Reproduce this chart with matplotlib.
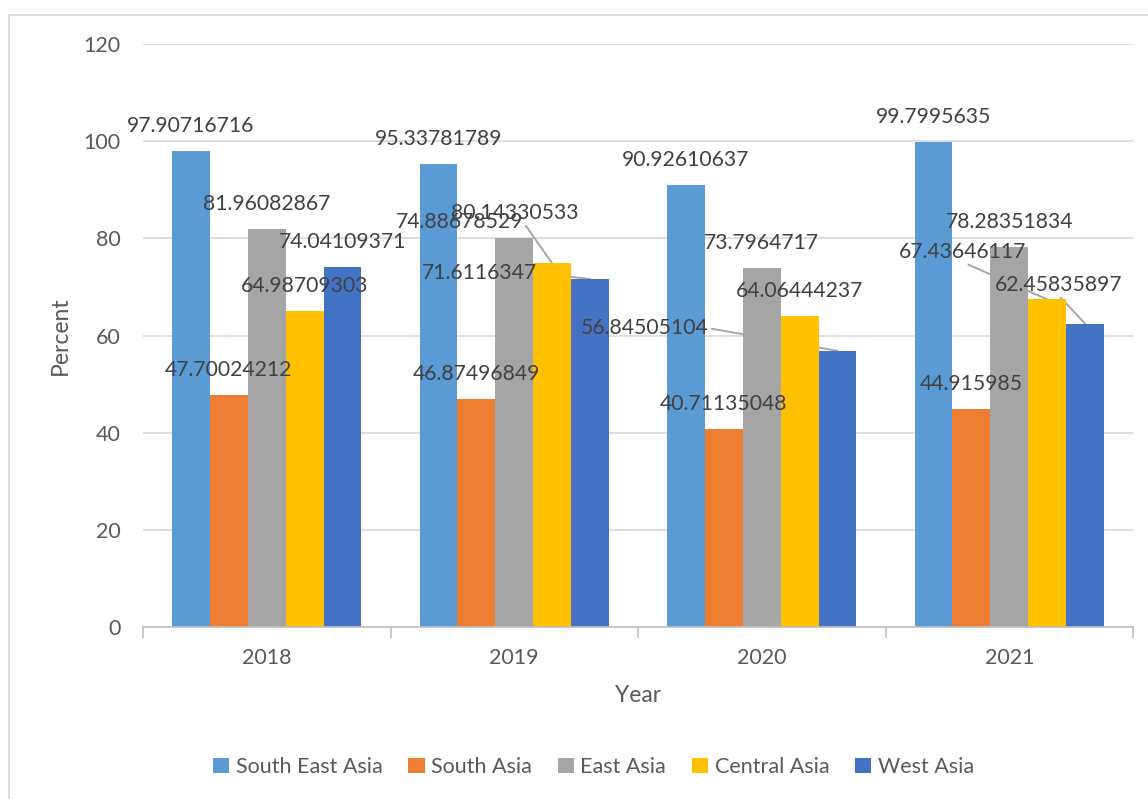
import numpy as np
import matplotlib.pyplot as plt
from matplotlib.patches import Rectangle

plt.rcParams['font.family'] = ['Lato', 'DejaVu Sans']

# Data
years = ["2018", "2019", "2020", "2021"]
regions = ["South East Asia", "South Asia", "East Asia", "Central Asia", "West Asia"]
south_east_asia = [97.90716716, 95.33781789, 90.92610637, 99.7995635]
south_asia = [47.70024212, 46.87496849, 40.71135048, 44.915985]
east_asia = [81.96082867, 80.14330533, 73.7964717, 78.28351834]
central_asia = [64.98709303, 74.88678529, 64.06444237, 67.43646117]
west_asia = [74.04109371, 71.6116347, 56.84505104, 62.45835897]
series = [south_east_asia, south_asia, east_asia, central_asia, west_asia]
colors = ["#5B9BD5", "#ED7D31", "#A5A5A5", "#FFC000", "#4472C4"]

# labels Excel dragged away from their bars: (series, year) -> (x, y, leader start)
moved = {
    (3, 1): (0.778, 83.4, (1, 0.5)),
    (4, 1): (0.859, 72.9, (1, 0.5)),
    (4, 2): (1.528, 61.5, (1, 0.5)),
    (3, 3): (2.810, 77.2, (0.5, 0)),
    (4, 3): (3.198, 70.4, (0.5, 0)),
}

fig = plt.figure(figsize=(11.48, 7.99), dpi=100)
ax = fig.add_axes([143 / 1148, 1 - 627 / 799, 990 / 1148, 583 / 799])

# outer chart border
fig.patches.append(Rectangle((9 / 1148, -0.1), 1.2, 1.1 - 15 / 799,
                             transform=fig.transFigure, fill=False,
                             edgecolor="#D9D9D9", lw=1.2))

x = np.arange(len(years))
w = 0.153
txt_col = "#404040"
fs = 15.2
for i, (vals, name, col) in enumerate(zip(series, regions, colors)):
    xs = x + (i - 2) * w
    ax.bar(xs, vals, width=w, color=col, label=name, zorder=2)
    for j, v in enumerate(vals):
        lab = str(v)
        if (i, j) in moved:
            lx, ly, rp = moved[(i, j)]
            # leader line drawn under the bars
            ax.annotate(lab, xy=(xs[j], v), xytext=(lx, ly), color="none",
                        fontsize=fs, ha="center", va="center", zorder=1,
                        arrowprops=dict(arrowstyle="-", color="#A6A6A6", lw=1.4,
                                        relpos=rp, shrinkA=0, shrinkB=0))
            ax.text(lx, ly, lab, fontsize=fs, ha="center", va="center",
                    color=txt_col, zorder=5)
        else:
            ax.annotate(lab, xy=(xs[j], v), xytext=(0, 18), textcoords="offset points",
                        fontsize=fs, ha="center", va="center", color=txt_col, zorder=5)

ax.set_xlim(-0.5, 3.5)
ax.set_ylim(0, 120)
ax.set_yticks(range(0, 121, 20))
ax.yaxis.grid(True, color="#D9D9D9", lw=1.2, zorder=0)
ax.set_axisbelow(True)
for s in ["top", "right", "left"]:
    ax.spines[s].set_visible(False)
ax.spines["bottom"].set_color("#BFBFBF")
ax.spines["bottom"].set_linewidth(1.2)

ax.set_xticks(x)
ax.set_xticklabels(years)
ax.set_xticks(np.arange(-0.5, 3.6, 1), minor=True)
ax.tick_params(axis="x", which="major", length=0, pad=15, labelsize=15.5, labelcolor="#595959")
ax.tick_params(axis="x", which="minor", length=8, width=1.2, color="#BFBFBF")
ax.tick_params(axis="y", length=0, pad=16, labelsize=15.5, labelcolor="#595959")

ax.set_xlabel("Year", fontsize=16.5, color="#595959", va="center")
ax.set_ylabel("Percent", fontsize=16.5, color="#595959", va="center")
ax.xaxis.set_label_coords(0.5, (627 - 695) / 583)
ax.yaxis.set_label_coords((60 - 143) / 990, 0.5)

fig.legend(loc="center", bbox_to_anchor=(0.517, 1 - 767 / 799), ncol=5, frameon=False,
           fontsize=15.5, handlelength=0.75, handleheight=0.75, handletextpad=0.3,
           columnspacing=1.2, labelcolor="#595959")

plt.savefig("out.png", dpi=100)
